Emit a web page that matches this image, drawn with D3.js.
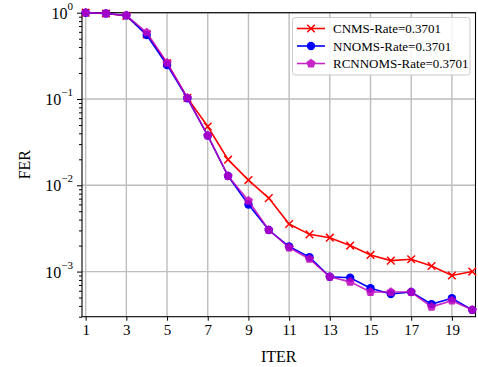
<!DOCTYPE html>
<html><head><meta charset="utf-8">
<script src="https://cdn.jsdelivr.net/npm/d3@7"></script>
<style>body{margin:0;background:#fff;} svg{display:block;font-family:"Liberation Serif","Times New Roman",serif;}</style>
</head><body>
<svg id="c" width="478" height="367"></svg>
<script>
const iters = [1,2,3,4,5,6,7,8,9,10,11,12,13,14,15,16,17,18,19,20];
const cnms = [1.0,0.98,0.92,0.56,0.26,0.103,0.048,0.0198,0.0115,0.0071,0.00356,0.0027,0.00247,0.0020,0.00156,0.00134,0.00139,0.00116,0.00090,0.00100];
const nnoms = [1.0,0.98,0.93,0.55,0.248,0.102,0.0376,0.0128,0.0060,0.00303,0.00195,0.00147,0.00087,0.00085,0.00064,0.00055,0.00058,0.00042,0.00049,0.00036];
const rcnnoms = [1.0,0.98,0.93,0.59,0.263,0.103,0.0376,0.0128,0.0066,0.00303,0.0019,0.0014,0.00087,0.00076,0.00058,0.00058,0.00058,0.00039,0.00046,0.00036];
const xTicks = [1,3,5,7,9,11,13,15,17,19];
const yTicks = [0,-1,-2,-3];
const seriesNames = ["CNMS-Rate=0.3701","NNOMS-Rate=0.3701","RCNNOMS-Rate=0.3701"];

const L=82, R=475.5, T=12.7, B=316.7;
const svg = d3.select("#c");
const x = d3.scaleLinear().domain([0.82,20.16]).range([L,R]);
const y = d3.scaleLog().domain([3e-4,1]).range([B,T]);

// grid
const g = svg.append("g");
g.selectAll(".gx").data(xTicks).join("line")
  .attr("x1",d=>x(d)).attr("x2",d=>x(d)).attr("y1",T).attr("y2",B)
  .attr("stroke","#bdbdbd").attr("stroke-width",1.4);
g.selectAll(".gy").data(yTicks).join("line")
  .attr("y1",d=>y(Math.pow(10,d))).attr("y2",d=>y(Math.pow(10,d))).attr("x1",L).attr("x2",R)
  .attr("stroke","#bdbdbd").attr("stroke-width",1.4);

// axes
const xAxis = d3.axisBottom(x).tickValues(xTicks).tickSize(4).tickPadding(4).tickFormat(d3.format("d"));
const ax = svg.append("g").attr("transform",`translate(0,${B})`).call(xAxis);
ax.select(".domain").remove();
ax.selectAll("text").attr("font-size",15).attr("font-family","Liberation Serif").attr("fill","#000");
ax.selectAll("line").attr("stroke","#000").attr("stroke-width",1);

const minor = [];
for (let e=-4;e<0;e++) for (let m=2;m<10;m++){const v=m*Math.pow(10,e); if(v>=3e-4&&v<=1) minor.push(v);}
const yMinor = d3.axisLeft(y).tickValues(minor).tickSize(3).tickFormat("");
const aym = svg.append("g").attr("transform",`translate(${L},0)`).call(yMinor);
aym.select(".domain").remove();
aym.selectAll("line").attr("stroke","#000").attr("stroke-width",1);
const yMajor = d3.axisLeft(y).tickValues(yTicks.map(d=>Math.pow(10,d))).tickSize(5).tickFormat("");
const ayM = svg.append("g").attr("transform",`translate(${L},0)`).call(yMajor);
ayM.select(".domain").remove();
ayM.selectAll("line").attr("stroke","#000").attr("stroke-width",1);

// y tick labels 10^n
const yl = svg.append("g");
yTicks.forEach(e=>{
  const t = yl.append("text").attr("x",L-9).attr("y",y(Math.pow(10,e))+6)
    .attr("text-anchor","end").attr("font-size",16).attr("fill","#000");
  t.append("tspan").text("10");
  t.append("tspan").attr("dy",-9).attr("font-size",11).text(e===0?"0":"\u2212"+(-e));
});

// spines
svg.append("rect").attr("x",L).attr("y",T).attr("width",R-L).attr("height",B-T)
  .attr("fill","none").attr("stroke","#000").attr("stroke-width",1.1);

// axis labels
svg.append("text").attr("x",(L+R)/2).attr("y",362).attr("text-anchor","middle")
  .attr("font-size",16).text("ITER");
svg.append("text").attr("transform",`translate(30,${(T+B)/2}) rotate(-90)`).attr("text-anchor","middle")
  .attr("font-size",16).text("FER");

const plot = svg.append("g");
const line = d3.line().x((d,i)=>x(iters[i])).y(d=>y(d));

function pentagon(r){
  const pts=[];
  for(let k=0;k<5;k++){const a=-Math.PI/2+k*2*Math.PI/5; pts.push([r*Math.cos(a),r*Math.sin(a)]);}
  return "M"+pts.map(p=>p.join(",")).join("L")+"Z";
}
function drawMarker(sel, type, color){
  if(type==="x"){
    sel.append("path").attr("d","M-3.8,-3.8L3.8,3.8M-3.8,3.8L3.8,-3.8").attr("stroke",color).attr("stroke-width",1.5).attr("fill","none");
  } else if(type==="o"){
    sel.append("circle").attr("r",4.2).attr("fill",color);
  } else {
    sel.append("path").attr("d",pentagon(4.8)).attr("fill",color);
  }
}

const series = [
  {vals:cnms, color:"#ff0000", m:"x", op:1},
  {vals:nnoms, color:"#0000ff", m:"o", op:1},
  {vals:rcnnoms, color:"#bf00bf", m:"p", op:0.85}
];
series.forEach(s=>{
  const gg = plot.append("g").attr("opacity",s.op);
  gg.append("path").datum(s.vals).attr("d",line).attr("fill","none").attr("stroke",s.color).attr("stroke-width",1.6);
  s.vals.forEach((v,i)=>{
    const mg = gg.append("g").attr("transform",`translate(${x(iters[i])},${y(v)})`);
    drawMarker(mg,s.m,s.color);
  });
});

// legend
const lg = svg.append("g");
lg.append("rect").attr("x",292.5).attr("y",17.5).attr("width",177.5).attr("height",57.5)
  .attr("rx",2.5).attr("fill","#fff").attr("fill-opacity",0.85).attr("stroke","#cccccc").attr("stroke-width",1);
const rows=[28.5,46,63.5];
series.forEach((s,i)=>{
  const r = lg.append("g").attr("opacity",s.op);
  r.append("line").attr("x1",297).attr("x2",325).attr("y1",rows[i]).attr("y2",rows[i]).attr("stroke",s.color).attr("stroke-width",1.6);
  const mg = r.append("g").attr("transform",`translate(311,${rows[i]})`);
  drawMarker(mg,s.m,s.color);
  lg.append("text").attr("x",333).attr("y",rows[i]+4.5).attr("font-size",13).attr("fill","#000").text(seriesNames[i]);
});
</script>
</body></html>
